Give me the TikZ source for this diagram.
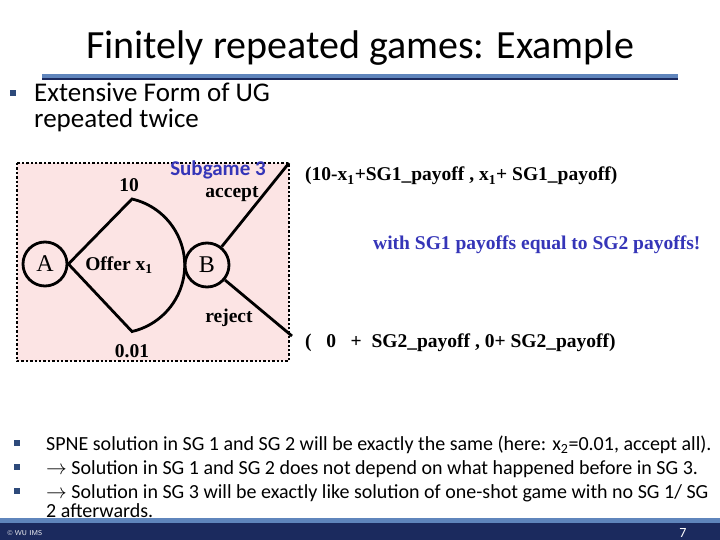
\documentclass[tikz,border=0pt]{standalone}
\usepackage{fontspec}
\setmainfont{Carlito}
\newfontfamily\timesfont{Liberation Serif}
\usetikzlibrary{positioning}
\definecolor{slidenavy}{HTML}{1B2A5E}
\definecolor{slidesteel}{HTML}{5F85BC}
\definecolor{bulletblue}{HTML}{2E4A7A}
\definecolor{subgamefill}{HTML}{FCE4E4}
\definecolor{noteblue}{HTML}{3535B8}

\begin{document}
\begin{tikzpicture}[
        x=1pt, y=-1pt,
        playernode/.style={
            draw,
            circle,
            line width=2.8pt,
            minimum size=44pt,
            inner sep=0pt,
            font=\timesfont\fontsize{24}{24}\selectfont
        },
        branch/.style={line width=2.8pt},
        treelabel/.style={font=\timesfont\bfseries\fontsize{19.5}{20}\selectfont},
        payoff/.style={anchor=base west, inner sep=0pt,
            font=\timesfont\bfseries\fontsize{19.5}{20}\selectfont},
        bulletsq/.style={fill=bulletblue, minimum size=5.5pt, inner sep=0pt},
        bigtext/.style={anchor=base west, inner sep=0pt, font=\fontsize{27}{28}\selectfont},
        smalltext/.style={anchor=base west, inner sep=0pt, font=\fontsize{20}{22}\selectfont}
    ]
        \useasboundingbox (0,0) rectangle (720,540);
        \fill[white] (0,0) rectangle (720,540);

        % title and rule
        \node[anchor=base, font=\fontsize{40}{42}\selectfont] (title) at (360,59)
            {Finitely repeated games: Example};
        \fill[slidesteel] (42,74) rectangle (678,78.5);
        \fill[slidenavy] (42,78.5) rectangle (678,80);

        % first bullet
        \node[bulletsq] (sq0) at (13,93) {};
        \node[bigtext] (intro) at (34,102) {Extensive Form of UG};
        \node[bigtext] (introb) at (34,128) {repeated twice};

        % subgame box
        \fill[subgamefill] (17,163) rectangle (289,361);
        \draw[line width=2.4pt, dotted] (17,163) rectangle (289,361);

        \node[playernode] (A) at (45,264) {A};
        \node[playernode] (B) at (207,265) {B};
        \coordinate (high) at (132,199);
        \coordinate (low) at (132,331);
        \coordinate (acceptend) at (289,163);
        \coordinate (rejectend) at (292,336);

        \draw[branch] (A.east) -- (high)
            arc[start angle=77, end angle=-77, radius=68pt]
            -- (A.east);
        \draw[branch] (B) -- (acceptend);
        \draw[branch] (B) -- (rejectend);

        \node[treelabel] (high lbl) at (129,185) {10};
        \node[treelabel] (low lbl) at (132,351) {0.01};
        \node[treelabel] (offer) at (119,265) {Offer x\textsubscript{1}};
        \node[treelabel, inner sep=1pt] (accept lbl) at (232,194) {accept};
        \node[text=noteblue, inner sep=1pt, font=\bfseries\fontsize{21}{22}\selectfont] (subgame)
            at (218,170) {Subgame 3};
        \node[treelabel] (reject lbl) at (229,318) {reject};

        % payoffs
        \node[payoff] (pay accept) at (305,181)
            {(10-x\textsubscript{1}+SG1\_payoff , x\textsubscript{1}+ SG1\_payoff)};
        \node[payoff, text=noteblue] (equal note) at (373,249)
            {with SG1 payoffs equal to SG2 payoffs!};
        \node[payoff] (pay reject) at (305,347)
            {(\ \ \ 0\ \ \ +\ \ SG2\_payoff , 0+ SG2\_payoff)};

        % lower bullets
        \foreach \row in {443,467,491}
            \node[bulletsq] at (17,\row) {};
        \node[smalltext] (pointa) at (46,450)
            {SPNE solution in SG 1 and SG 2 will be exactly the same (here: x\textsubscript{2}=0.01, accept all).};
        \node[smalltext] (pointb) at (46,474)
            {$\rightarrow$ Solution in SG 1 and SG 2 does not depend on what happened before in SG 3.};
        \node[smalltext] (pointc) at (46,498)
            {$\rightarrow$ Solution in SG 3 will be exactly like solution of one-shot game with no SG 1/ SG};
        \node[smalltext] (pointd) at (46,517) {2 afterwards.};

        % footer
        \fill[slidesteel] (0,518) rectangle (720,523);
        \fill[slidenavy] (0,523) rectangle (720,540);
        \node[anchor=base west, text=white, font=\sffamily\fontsize{7}{8}\selectfont] (copy)
            at (4,535) {\textcopyright\ WU IMS};
        \node[anchor=base, text=white, font=\fontsize{14}{14}\selectfont] (page)
            at (683,537) {7};
    \end{tikzpicture}
\end{document}
